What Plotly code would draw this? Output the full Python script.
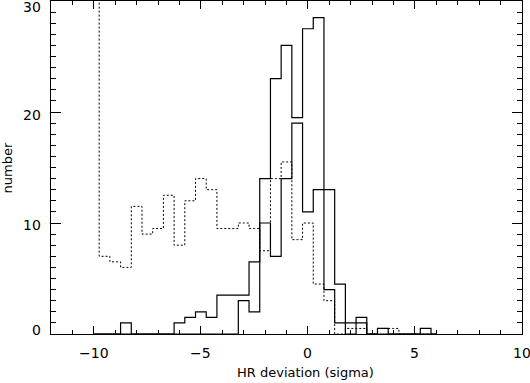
import plotly.graph_objects as go

# bin centres (sigma), bin width 0.5
bin_centers = [-10.0, -9.5, -9.0, -8.5, -8.0, -7.5, -7.0, -6.5, -6.0, -5.5, -5.0,
               -4.5, -4.0, -3.5, -3.0, -2.5, -2.0, -1.5, -1.0, -0.5, 0.0,
               0.5, 1.0, 1.5, 2.0, 2.5, 3.0, 3.5, 4.0, 4.5, 5.0, 5.5, 6.0]

# solid histogram, tall one
counts_a = [0, 0, 0, 1, 0, 0, 0, 0, 1, 1.5, 2,
            1.5, 3.5, 3.5, 3.5, 6.5, 14, 23, 26, 19.5, 27.5,
            28.5, 4, 1, 0, 1, 0, 0.5, 0, 0, 0, 0.5, 0]

# solid histogram, second one
counts_b = [0, 0, 0, 0, 0, 0, 0, 0, 0, 0, 0,
            0, 0, 0, 3, 2, 10, 7, 14, 19, 11,
            13, 13, 4.5, 1, 1.5, 0, 0, 0, 0, 0, 0, 0]

# dotted histogram (first bin runs off the top)
counts_dot = [60, 7, 6.5, 6, 11.5, 9, 9.5, 12.5, 8, 12, 14,
              13, 9.5, 9.5, 10, 9.5, 7.5, 14, 15.5, 8.5, 10,
              4.5, 3, 0, 0.5, 0.5, 0, 0.5, 0.5, 0, 0, 0, 0]

x_ticks = [-10, -5, 0, 5, 10]
y_ticks = [0, 10, 20, 30]
y_label_shift = [4, -2, -3, -6]

FONT = dict(family="DejaVu Sans", size=14, color="black")
TITLE_FONT = dict(family="DejaVu Sans", size=13, color="black")

fig = go.Figure()
fig.add_trace(go.Scatter(x=bin_centers, y=counts_dot, mode="lines", line_shape="hvh",
                         line=dict(color="black", width=1, dash="2px,2px")))
fig.add_trace(go.Scatter(x=bin_centers, y=counts_b, mode="lines", line_shape="hvh",
                         line=dict(color="black", width=1.2)))
fig.add_trace(go.Scatter(x=bin_centers, y=counts_a, mode="lines", line_shape="hvh",
                         line=dict(color="black", width=1.2)))

fig.update_xaxes(range=[-12, 10], showgrid=False, zeroline=False,
                 showline=True, linecolor="black", linewidth=1, mirror="allticks",
                 ticks="inside", tickcolor="black", ticklen=8, tickwidth=1,
                 tick0=0, dtick=5, showticklabels=False,
                 minor=dict(dtick=1, ticks="inside", ticklen=4, tickcolor="black", showgrid=False))
fig.update_yaxes(range=[0, 30], showgrid=False, zeroline=False,
                 showline=True, linecolor="black", linewidth=1, mirror="allticks",
                 ticks="inside", tickcolor="black", ticklen=10, tickwidth=1,
                 tick0=0, dtick=10, showticklabels=False,
                 minor=dict(dtick=1, ticks="inside", ticklen=5, tickcolor="black", showgrid=False))

# tick labels as annotations (the edge label "10" is dropped by plotly otherwise)
for v in x_ticks:
    fig.add_annotation(x=v, xref="x", y=0, yref="paper", text=str(v).replace("-", "\u2212"),
                       showarrow=False, xanchor="center", yanchor="middle", yshift=-19, font=FONT)
for v, s in zip(y_ticks, y_label_shift):
    fig.add_annotation(x=0, xref="paper", y=v, yref="y", text=str(v), showarrow=False,
                       xanchor="right", yanchor="middle", xshift=-8, yshift=s, font=FONT)

fig.add_annotation(x=0.541, xref="paper", y=-0.117, yref="paper", text="HR deviation (sigma)",
                   showarrow=False, xanchor="center", yanchor="middle", font=TITLE_FONT)
fig.add_annotation(x=-0.0913, xref="paper", y=0.5, yref="paper", text="number", textangle=-90,
                   showarrow=False, xanchor="center", yanchor="middle", font=TITLE_FONT)

fig.update_layout(width=530, height=383, showlegend=False,
                  margin=dict(l=51, r=8, t=1, b=49, autoexpand=False),
                  plot_bgcolor="white", paper_bgcolor="white")

# page body has an 8px default margin; drop it so the figure sits at 0,0
fig.write_html("out.html", config={"displayModeBar": False},
               post_script="document.body.style.margin='0';")
